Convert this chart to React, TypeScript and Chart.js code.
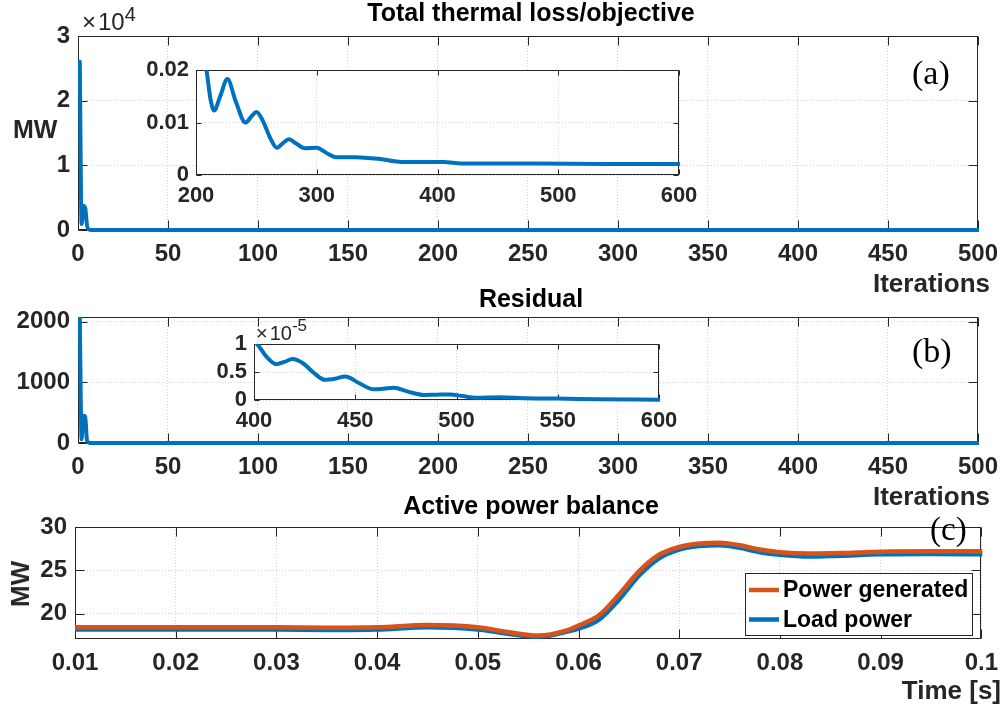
import React, { useEffect, useRef } from 'react';
import { Chart, registerables } from 'chart.js';

Chart.register(...registerables);

// ---------------- data ----------------
// (a) Total thermal loss / objective (MW) vs iterations
const lossIter = [1, 2, 3, 4, 5, 6, 7, 8, 10, 15, 30, 60, 100, 200, 300, 400, 500];
const lossMW = [26000, 900, 3700, 3400, 700, 100, 15, 3, 0.5, 0.1, 0.05, 0.04, 0.035, 0.03, 0.005, 0.0025, 0.0022];
const lossXTicks = [0, 50, 100, 150, 200, 250, 300, 350, 400, 450, 500];
const lossYTicks = [0, 10000, 20000, 30000];

// (a) inset
const lossZoomIter = [200, 205, 209, 212, 215, 220, 226, 233, 241, 246, 250, 255, 262, 267, 272, 277, 283, 290, 300, 308, 316, 332, 354, 370, 405, 420, 480, 540, 600];
const lossZoomMW = [0.032, 0.025, 0.0195, 0.0145, 0.0123, 0.015, 0.0183, 0.014, 0.01, 0.0112, 0.012, 0.0105, 0.0068, 0.0052, 0.0061, 0.0068, 0.006, 0.0051, 0.0052, 0.0042, 0.0034, 0.0034, 0.003, 0.0025, 0.0025, 0.0022, 0.0022, 0.0021, 0.0021];
const lossZoomXTicks = [200, 300, 400, 500, 600];
const lossZoomYTicks = [0, 0.01, 0.02];

// (b) Residual vs iterations
const resIter = [1, 2, 3, 4, 5, 6, 7, 8, 10, 20, 50, 100, 200, 300, 400, 500];
const resVal = [2080, 60, 450, 440, 40, 5, 1, 0.2, 0.05, 0.01, 0.001, 0.0005, 0.0002, 0.00005, 0.00001, 0.0000003];
const resXTicks = [0, 50, 100, 150, 200, 250, 300, 350, 400, 450, 500];
const resYTicks = [0, 1000, 2000];

// (b) inset
const resZoomIter = [400, 402, 406, 411, 415, 419, 424, 430, 435, 440, 445, 452, 459, 464, 469, 476, 484, 490, 497, 503, 510, 521, 535, 550, 570, 600];
const resZoomVal = [1.05e-5, 0.98e-5, 0.78e-5, 0.64e-5, 0.68e-5, 0.73e-5, 0.66e-5, 0.47e-5, 0.36e-5, 0.38e-5, 0.42e-5, 0.3e-5, 0.19e-5, 0.2e-5, 0.22e-5, 0.15e-5, 0.09e-5, 0.095e-5, 0.1e-5, 0.07e-5, 0.04e-5, 0.05e-5, 0.03e-5, 0.025e-5, 0.015e-5, 0.005e-5];
const resZoomXTicks = [400, 450, 500, 550, 600];
const resZoomYTicks = [0, 0.5e-5, 1e-5];

// (c) Active power balance vs time
const timeS = [0.01, 0.015, 0.02, 0.025, 0.03, 0.035, 0.04, 0.045, 0.05, 0.053, 0.056, 0.059, 0.06, 0.062, 0.064, 0.066, 0.068, 0.07, 0.072, 0.074, 0.076, 0.078, 0.08, 0.083, 0.086, 0.09, 0.095, 0.1];
const genMW = [18.45, 18.45, 18.45, 18.45, 18.45, 18.4, 18.45, 18.7, 18.45, 17.9, 17.5, 18.15, 18.65, 19.8, 22.2, 24.9, 26.8, 27.7, 28.1, 28.2, 27.9, 27.4, 27.1, 26.95, 27.0, 27.15, 27.2, 27.2];
const loadMW = [18.2, 18.2, 18.2, 18.2, 18.2, 18.15, 18.2, 18.45, 18.2, 17.7, 17.35, 18.0, 18.3, 19.3, 21.6, 24.4, 26.4, 27.4, 27.8, 27.9, 27.6, 27.1, 26.8, 26.6, 26.7, 26.85, 26.9, 26.85];
const timeTicks = [0.01, 0.02, 0.03, 0.04, 0.05, 0.06, 0.07, 0.08, 0.09, 0.1];
const powerYTicks = [20, 25, 30];
const seriesNames = ['Power generated', 'Load power'];

// ---------------- styles ----------------
const W = 1008;
const H = 711;
const SANS = '"Liberation Sans", Arial, Helvetica, sans-serif';
const SERIF = '"Liberation Serif", "Times New Roman", serif';
const DARK = '#262626';
const GRID = '#d2d2d2';
const BLUE = '#0072BD';
const ORANGE = '#D95319';

Chart.defaults.font.family = SANS;

const fmt = (v: number, scale: number) => String(parseFloat((v / scale).toPrecision(6)));

const matlabAxes = {
  id: 'matlabAxes',
  beforeDraw(chart: any, _a: any, o: any) {
    if (!o || !o.fill) return;
    const { ctx, chartArea: a } = chart;
    ctx.save();
    ctx.fillStyle = '#ffffff';
    ctx.fillRect(a.left, a.top, a.right - a.left, a.bottom - a.top);
    ctx.restore();
  },
  beforeDatasetsDraw(chart: any, _a: any, o: any) {
    const { ctx, chartArea: a, scales } = chart;
    const tl = (o && o.tickLen) || 6;
    const L = Math.round(a.left) + 0.5;
    const R = Math.round(a.right) - 0.5;
    const T = Math.round(a.top) + 0.5;
    const B = Math.round(a.bottom) - 0.5;
    ctx.save();
    ctx.strokeStyle = DARK;
    ctx.lineWidth = 1;
    ctx.beginPath();
    scales.x.ticks.forEach((t: any) => {
      const px = Math.round(scales.x.getPixelForValue(t.value)) + 0.5;
      ctx.moveTo(px, B);
      ctx.lineTo(px, B - tl);
      ctx.moveTo(px, T);
      ctx.lineTo(px, T + tl);
    });
    scales.y.ticks.forEach((t: any) => {
      const py = Math.round(scales.y.getPixelForValue(t.value)) + 0.5;
      ctx.moveTo(L, py);
      ctx.lineTo(L + tl, py);
      ctx.moveTo(R, py);
      ctx.lineTo(R - tl, py);
    });
    ctx.stroke();
    ctx.strokeRect(L, T, R - L, B - T);
    ctx.restore();
  },
};

const matlabLegend = {
  id: 'matlabLegend',
  afterDatasetsDraw(chart: any, _a: any, o: any) {
    if (!o || !o.show) return;
    const { ctx, chartArea: a } = chart;
    const w = 227;
    const h = 62;
    const x0 = Math.round(a.right - 9 - w);
    const y0 = Math.round(a.bottom - 4 - h);
    ctx.save();
    ctx.fillStyle = '#ffffff';
    ctx.fillRect(x0, y0, w, h);
    ctx.strokeStyle = DARK;
    ctx.lineWidth = 1;
    ctx.strokeRect(x0 + 0.5, y0 + 0.5, w, h);
    ctx.font = `bold 23px ${SANS}`;
    ctx.textBaseline = 'middle';
    chart.data.datasets.forEach((ds: any, i: number) => {
      const cy = y0 + 17 + i * 29.5;
      ctx.strokeStyle = ds.borderColor;
      ctx.lineWidth = 4.5;
      ctx.beginPath();
      ctx.moveTo(x0 + 4, cy);
      ctx.lineTo(x0 + 34, cy);
      ctx.stroke();
      ctx.fillStyle = '#000';
      ctx.fillText(ds.label, x0 + 38, cy + 1);
    });
    ctx.restore();
  },
};

function lineDs(label: string, xs: number[], ys: number[], color: string, width = 4) {
  return {
    label,
    data: xs.map((x, i) => ({ x, y: ys[i] })),
    borderColor: color,
    backgroundColor: color,
    borderWidth: width,
    pointRadius: 0,
    fill: false,
    cubicInterpolationMode: 'monotone',
    borderJoinStyle: 'round',
    borderCapStyle: 'round',
    clip: { left: 0, top: 0, right: 1, bottom: 3 },
  };
}

interface PanelSpec {
  datasets: any[];
  xMin: number;
  xMax: number;
  xTicks: number[];
  xScale?: number;
  yMin: number;
  yMax: number;
  yTicks: number[];
  yScale?: number;
  yAxisW: number;
  xAxisH: number;
  padTop: number;
  padRight: number;
  fontSize: number;
  xPad: number;
  yPad: number;
  tickLen: number;
  fill?: boolean;
  legend?: boolean;
}

function buildConfig(p: PanelSpec): any {
  const font = { family: SANS, size: p.fontSize, weight: 'bold' };
  return {
    type: 'line',
    data: { datasets: p.datasets },
    options: {
      animation: false,
      responsive: false,
      devicePixelRatio: 1,
      events: [],
      layout: { padding: { left: 0, top: p.padTop, right: p.padRight, bottom: 0 } },
      plugins: {
        legend: { display: false },
        title: { display: false },
        tooltip: { enabled: false },
        matlabAxes: { fill: !!p.fill, tickLen: p.tickLen },
        matlabLegend: { show: !!p.legend },
      },
      scales: {
        x: {
          type: 'linear',
          min: p.xMin,
          max: p.xMax,
          afterBuildTicks: (s: any) => {
            s.ticks = p.xTicks.map((v) => ({ value: v }));
          },
          afterFit: (s: any) => {
            s.height = p.xAxisH;
          },
          ticks: {
            font,
            color: DARK,
            padding: p.xPad,
            maxRotation: 0,
            minRotation: 0,
            autoSkip: false,
            callback: (v: any) => fmt(Number(v), p.xScale || 1),
          },
          grid: { color: GRID, lineWidth: 1, drawTicks: false },
          border: { display: false, dash: [1, 2] },
        },
        y: {
          type: 'linear',
          min: p.yMin,
          max: p.yMax,
          afterBuildTicks: (s: any) => {
            s.ticks = p.yTicks.map((v) => ({ value: v }));
          },
          afterFit: (s: any) => {
            s.width = p.yAxisW;
          },
          ticks: {
            font,
            color: DARK,
            padding: p.yPad,
            autoSkip: false,
            callback: (v: any) => fmt(Number(v), p.yScale || 1),
          },
          grid: { color: GRID, lineWidth: 1, drawTicks: false },
          border: { display: false, dash: [1, 2] },
        },
      },
    },
    plugins: [matlabAxes, matlabLegend],
  };
}

function ChartBox({ left, top, width, height, spec }: { left: number; top: number; width: number; height: number; spec: () => PanelSpec }) {
  const ref = useRef<HTMLCanvasElement>(null);
  useEffect(() => {
    const chart = new Chart(ref.current as HTMLCanvasElement, buildConfig(spec()));
    return () => chart.destroy();
  }, []);
  return (
    <canvas
      ref={ref}
      width={width}
      height={height}
      style={{ position: 'absolute', left, top, width, height }}
    />
  );
}

function Txt({ x, base, size, align = 'left', weight = 700, serif = false, color = '#000', children }: any) {
  const k = serif ? 0.8375 : 0.8465;
  const style: React.CSSProperties = {
    position: 'absolute',
    top: base - k * size,
    fontSize: size,
    lineHeight: '1',
    fontWeight: weight,
    fontFamily: serif ? SERIF : SANS,
    color,
    whiteSpace: 'nowrap',
  };
  if (align === 'left') style.left = x;
  else if (align === 'right') style.right = W - x;
  else {
    style.left = x - 400;
    style.width = 800;
    style.textAlign = 'center';
  }
  return <div style={style}>{children}</div>;
}

export default function App() {
  return (
    <div style={{ position: 'absolute', left: 0, top: 0, width: W, height: H, background: '#fff', overflow: 'hidden' }}>
      {/* (a) main */}
      <ChartBox
        left={0}
        top={0}
        width={1008}
        height={300}
        spec={() => ({
          datasets: [lineDs('Total thermal loss', lossIter, lossMW, BLUE)],
          xMin: 0, xMax: 500, xTicks: lossXTicks,
          yMin: 0, yMax: 30000, yTicks: lossYTicks, yScale: 10000,
          yAxisW: 78, xAxisH: 70, padTop: 36, padRight: 23,
          fontSize: 24, xPad: 10, yPad: 8, tickLen: 9,
        })}
      />
      {/* (b) main */}
      <ChartBox
        left={0}
        top={290}
        width={1008}
        height={230}
        spec={() => ({
          datasets: [lineDs('Residual', resIter, resVal, BLUE)],
          xMin: 0, xMax: 500, xTicks: resXTicks,
          yMin: 0, yMax: 2080, yTicks: resYTicks,
          yAxisW: 78, xAxisH: 77, padTop: 27, padRight: 23,
          fontSize: 24, xPad: 10, yPad: 8, tickLen: 9,
        })}
      />
      {/* (c) main */}
      <ChartBox
        left={0}
        top={500}
        width={1008}
        height={211}
        spec={() => ({
          datasets: [
            lineDs(seriesNames[0], timeS, genMW, ORANGE, 4.5),
            lineDs(seriesNames[1], timeS, loadMW, BLUE, 4.5),
          ],
          xMin: 0.01, xMax: 0.1, xTicks: timeTicks,
          yMin: 17.1, yMax: 30, yTicks: powerYTicks,
          yAxisW: 75, xAxisH: 72, padTop: 27, padRight: 23,
          fontSize: 24, xPad: 10, yPad: 8, tickLen: 9, legend: true,
        })}
      />
      {/* (a) inset */}
      <ChartBox
        left={120}
        top={50}
        width={600}
        height={180}
        spec={() => ({
          datasets: [lineDs('Total thermal loss (zoom)', lossZoomIter, lossZoomMW, BLUE)],
          xMin: 200, xMax: 600, xTicks: lossZoomXTicks,
          yMin: 0, yMax: 0.02, yTicks: lossZoomYTicks,
          yAxisW: 76, xAxisH: 55, padTop: 14, padRight: 41,
          fontSize: 22, xPad: 8, yPad: 7, tickLen: 5, fill: true,
        })}
      />
      {/* (b) inset */}
      <ChartBox
        left={170}
        top={320}
        width={530}
        height={125}
        spec={() => ({
          datasets: [lineDs('Residual (zoom)', resZoomIter, resZoomVal, BLUE)],
          xMin: 400, xMax: 600, xTicks: resZoomXTicks,
          yMin: 0, yMax: 1e-5, yTicks: resZoomYTicks, yScale: 1e-5,
          yAxisW: 84, xAxisH: 45, padTop: 24, padRight: 41,
          fontSize: 22, xPad: 8, yPad: 7, tickLen: 5, fill: true,
        })}
      />

      {/* titles */}
      <Txt x={531} base={21} size={25} align="center">Total thermal loss/objective</Txt>
      <Txt x={531} base={307} size={25} align="center">Residual</Txt>
      <Txt x={531} base={514} size={25} align="center">Active power balance</Txt>

      {/* axis labels */}
      <Txt x={13} base={138} size={25} color={DARK}>MW</Txt>
      <Txt x={990} base={292} size={26} align="right" color={DARK}>Iterations</Txt>
      <Txt x={990} base={505} size={26} align="right" color={DARK}>Iterations</Txt>
      <Txt x={1001} base={699} size={26} align="right" color={DARK}>Time [s]</Txt>
      <div
        style={{
          position: 'absolute', left: 19.5, top: 583.5,
          transform: 'translate(-50%, -50%) rotate(-90deg)',
          fontSize: 26, lineHeight: '1', fontWeight: 700, fontFamily: SANS, color: DARK, whiteSpace: 'nowrap',
        }}
      >
        MW
      </div>

      {/* exponents */}
      <Txt x={82} base={30.5} size={24} weight={400} color={DARK}>
        <span style={{ marginRight: 2 }}>×</span>10<span style={{ fontSize: 20, position: 'relative', top: -9 }}>4</span>
      </Txt>
      <Txt x={256} base={340} size={20} weight={400} color={DARK}>
        <span style={{ marginRight: 2 }}>×</span>10<span style={{ fontSize: 17, position: 'relative', top: -9 }}>-5</span>
      </Txt>

      {/* panel tags */}
      <Txt x={912} base={84} size={34} weight={400} serif>(a)</Txt>
      <Txt x={912} base={362} size={34} weight={400} serif>(b)</Txt>
      <Txt x={930} base={541} size={33} weight={400} serif>(c)</Txt>
    </div>
  );
}
